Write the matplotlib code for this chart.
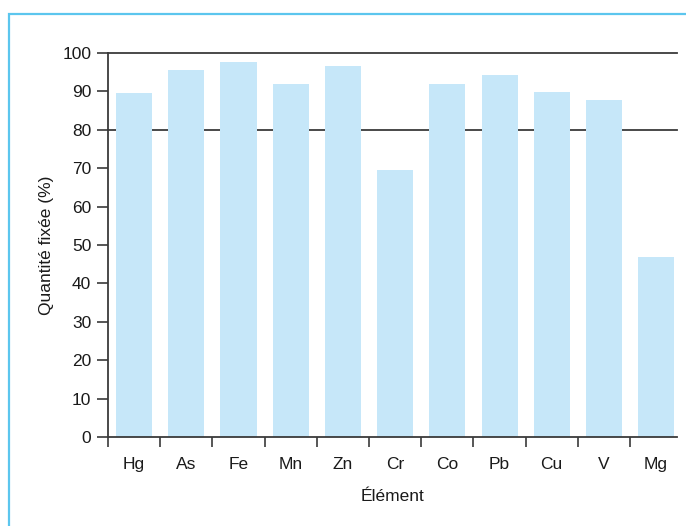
import matplotlib.pyplot as plt
from matplotlib.patches import Rectangle
from matplotlib.ticker import FixedLocator, NullFormatter
import numpy as np

elements = ["Hg", "As", "Fe", "Mn", "Zn", "Cr", "Co", "Pb", "Cu", "V", "Mg"]
fixed_pct = [89.6, 95.7, 97.6, 91.9, 96.6, 69.6, 91.9, 94.4, 89.9, 87.8, 46.9]
y_ticks = list(range(0, 101, 10))
ref_lines = [80, 100]

BAR = "#c6e7f9"
LINE = "#3a3a3a"
FRAME = "#5cc6ee"
TEXT = "#1a1a1a"

plt.rcParams["font.family"] = ["Liberation Sans Narrow", "Liberation Sans", "DejaVu Sans"]

fig = plt.figure(figsize=(6.86, 5.26), dpi=100)
fig.patches.append(Rectangle((9 / 686, -0.1), 1.2, (526 - 14) / 526 + 0.1,
                             transform=fig.transFigure, fill=False,
                             edgecolor=FRAME, linewidth=1.6))

ax = fig.add_axes([108 / 686, (526 - 437) / 526, (677 - 108) / 686, (437 - 53) / 526])
x = np.arange(len(elements))
ax.bar(x, fixed_pct, width=0.69, color=BAR, zorder=2)
for v in ref_lines:
    ax.axhline(v, color=LINE, linewidth=1.3, zorder=1, clip_on=False)

ax.set_xlim(-0.5, 10.4)
ax.set_ylim(0, 100)
ax.set_yticks(y_ticks)
ax.xaxis.set_major_locator(FixedLocator(x - 0.5))
ax.xaxis.set_major_formatter(NullFormatter())
ax.set_xticks(x, minor=True)
ax.set_xticklabels(elements, minor=True)
ax.tick_params(axis="x", which="minor", length=0, pad=14.5, labelsize=12.5, labelcolor=TEXT)
ax.tick_params(axis="x", which="major", length=7.5, width=1.2, color=LINE)
ax.tick_params(axis="y", length=8, width=1.2, color=LINE, labelsize=12.5, labelcolor=TEXT, pad=4)

for side in ["top", "right"]:
    ax.spines[side].set_visible(False)
for side in ["left", "bottom"]:
    ax.spines[side].set_color(LINE)
    ax.spines[side].set_linewidth(1.3)

ax.set_xlabel("Élément", fontsize=12.5, color=TEXT, labelpad=12)
ax.set_ylabel("Quantité fixée (%)", fontsize=12.5, color=TEXT, labelpad=6)

fig.savefig("out.png", dpi=100)
